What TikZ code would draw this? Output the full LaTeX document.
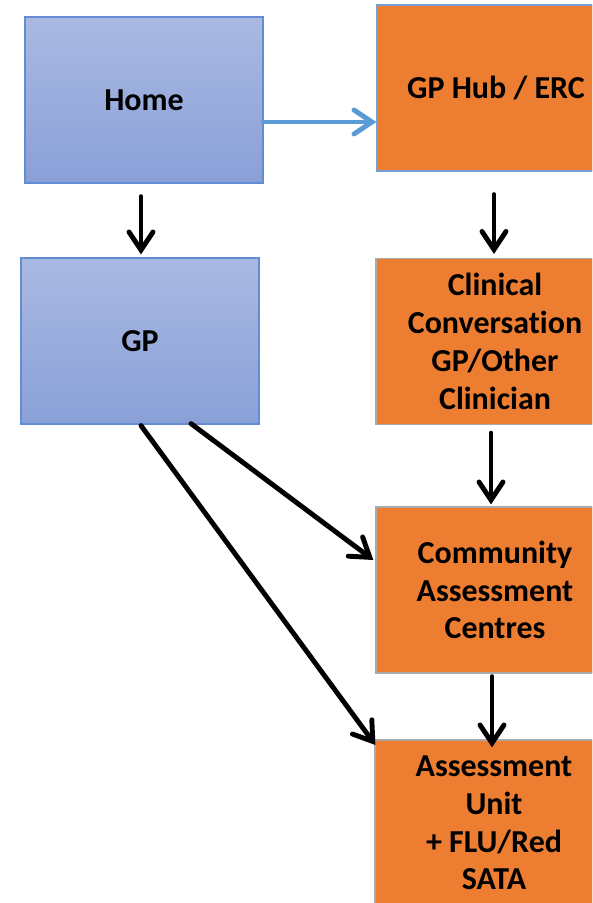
\documentclass[tikz,border=0pt]{standalone}
\usepackage{fontspec}
\setmainfont{Carlito}[Ligatures=NoCommon]
\usepackage{tikz}
\usetikzlibrary{arrows.meta,calc,positioning}
\definecolor{hometop}{RGB}{170,185,226}
\definecolor{homebottom}{RGB}{137,160,216}
\definecolor{homeedge}{RGB}{100,140,210}
\definecolor{careorange}{RGB}{237,125,49}
\definecolor{hubedge}{RGB}{120,160,215}
\definecolor{careedge}{RGB}{170,170,170}
\definecolor{linkblue}{RGB}{91,155,213}
\tikzset{
  place/.style={draw=homeedge, line width=0.7pt, top color=hometop,
                bottom color=homebottom, minimum width=4.76cm,
                minimum height=3.32cm, inner sep=0pt, align=center,
                font=\fontsize{18.2pt}{21.5pt}\selectfont\bfseries},
  service/.style={place, draw=careedge, fill=careorange,
                  top color=careorange, bottom color=careorange},
  flow/.style={-{Straight Barb[length=3.6mm,width=4.8mm,line cap=round]},
               line width=2.8pt, line cap=round, black},
  bluelink/.style={flow, draw=linkblue},
}

\begin{document}
\begin{tikzpicture}[x=0.02cm,y=-0.02cm]
  \clip (0,0) rectangle (592,903);

  % Left column: where the patient starts.
  \node[place] (home) at (144,100) {Home};
  \node[place] (gp) at (140,341) {GP};

  % Right column: the hub pathway.
  \node[service, draw=hubedge] (hub) at (496,88) {GP Hub / ERC};
  \node[service] (clin) at (495,341.5)
    {Clinical\\Conversation\\GP/Other\\Clinician};
  \node[service] (cac) at (495,590) {Community\\Assessment\\Centres};
  \node[service] (au) at (494,823) {Assessment\\Unit\\+ FLU/Red\\SATA};

  % Connectors.
  \draw[bluelink] ($(home.east)+(0,22)$) -- ($(hub.west)+(0,34)$);
  \draw[flow] ($(home.south)+(-3,13)$) -- ($(gp.north)+(1,-3)$);
  \draw[flow] ($(hub.south)+(-2,23)$) -- ($(clin.north)+(-1,-4)$);
  \draw[flow] ($(clin.south)+(-4,8)$) -- ($(cac.north)+(-4,-2)$);
  \draw[flow] ($(cac.south)+(-3,3)$) -- ($(au.north)+(-2,8)$);
  \draw[flow] ($(gp.south)+(51,-1)$) -- ($(cac.west)+(-2,-30)$);
  \draw[flow] ($(gp.south)+(1,1)$) -- ($(au.west)+(1,-78)$);
\end{tikzpicture}
\end{document}
